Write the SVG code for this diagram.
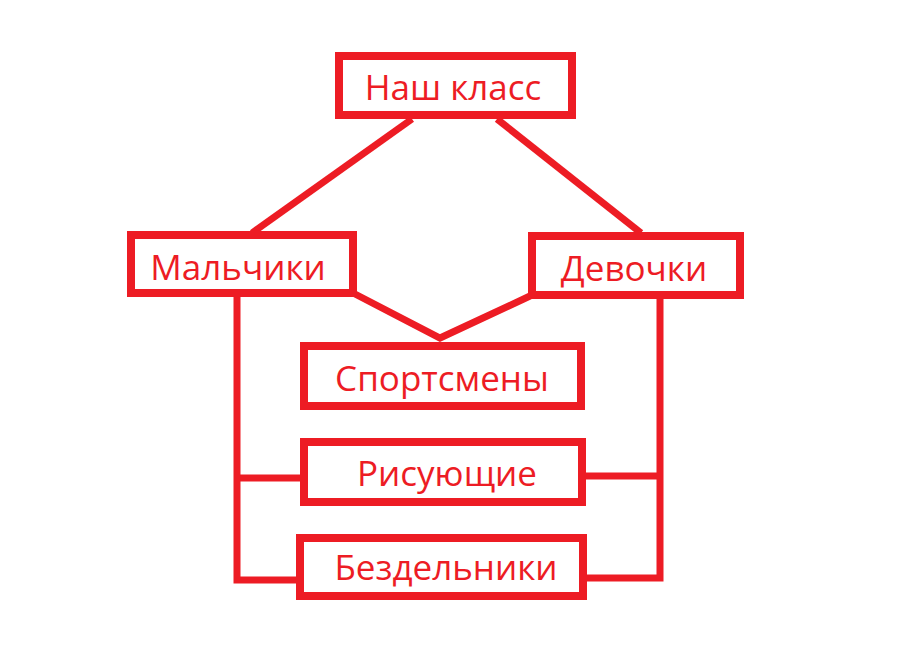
<svg xmlns="http://www.w3.org/2000/svg" width="912" height="654" viewBox="0 0 912 654">
<style>
.box{fill:#fff;stroke:#ED1C24;stroke-width:8}
.lbl{fill:#ED1C24;font-family:"Open Sans","Noto Sans","DejaVu Sans",sans-serif;font-size:35px}
.c{stroke:#ED1C24;stroke-width:7;fill:none;stroke-linejoin:miter}
</style>
<rect width="912" height="654" fill="#fff"/>
<g id="connectors">
<line class="c" x1="412" y1="119" x2="252" y2="233"/>
<line class="c" x1="497" y1="119" x2="641" y2="233"/>
<polyline class="c" points="355,294 440,338 530,296"/>
<polyline class="c" points="237,297 237,580 298,580"/>
<line class="c" x1="237" y1="478" x2="302" y2="478"/>
<polyline class="c" points="660,299 660,578 587,578"/>
<line class="c" x1="584" y1="476" x2="660" y2="476"/>
</g>
<g id="n-class"><rect class="box" x="339" y="56" width="233" height="59"/><text class="lbl" x="453" y="100" text-anchor="middle">Наш класс</text></g>
<g id="n-boys"><rect class="box" x="131" y="235" width="222" height="58"/><text class="lbl" x="238" y="280" text-anchor="middle">Мальчики</text></g>
<g id="n-girls"><rect class="box" x="532" y="236" width="208" height="59"/><text class="lbl" x="634" y="281" text-anchor="middle">Девочки</text></g>
<g id="n-sport"><rect class="box" x="304" y="346" width="277" height="60"/><text class="lbl" x="442" y="391" text-anchor="middle">Спортсмены</text></g>
<g id="n-draw"><rect class="box" x="304" y="442" width="278" height="60"/><text class="lbl" x="447" y="486" text-anchor="middle">Рисующие</text></g>
<g id="n-lazy"><rect class="box" x="300" y="538" width="283" height="58"/><text class="lbl" x="446" y="580" text-anchor="middle">Бездельники</text></g>
</svg>
